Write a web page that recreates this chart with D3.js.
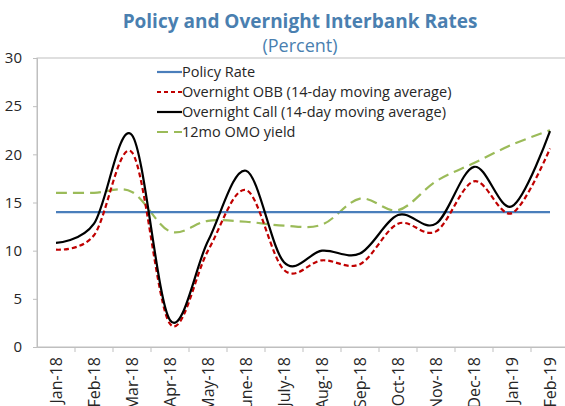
<!DOCTYPE html>
<html>
<head>
<meta charset="utf-8">
<script src="https://cdn.jsdelivr.net/npm/d3@7"></script>
<style>
  body { margin: 0; background: #fff; }
  text { font-family: "Open Sans", "Noto Sans", sans-serif; }
</style>
</head>
<body>
<div id="chart"></div>
<script>
// data
var months = ["Jan-18", "Feb-18", "Mar-18", "Apr-18", "May-18", "June-18", "July-18",
              "Aug-18", "Sep-18", "Oct-18", "Nov-18", "Dec-18", "Jan-19", "Feb-19"];
var policyRate = [14, 14, 14, 14, 14, 14, 14, 14, 14, 14, 14, 14, 14, 14];
var overnightOBB = [10.1, 11.6, 20.2, 2.4, 10.0, 16.3, 8.0, 9.0, 8.6, 12.8, 12.0, 17.2, 13.9, 20.6];
var overnightCall = [10.8, 12.8, 22.0, 2.8, 11.0, 18.3, 8.8, 10.0, 9.7, 13.7, 12.8, 18.7, 14.6, 22.4];
var omoYield = [16.0, 16.0, 16.1, 12.0, 13.1, 13.0, 12.6, 12.7, 15.4, 14.2, 17.2, 19.1, 21.0, 22.5];
var yTicks = [0, 5, 10, 15, 20, 25, 30];

var series = [
  {name: "Policy Rate", values: policyRate, color: "#4a7ebb", dash: null},
  {name: "Overnight OBB (14-day moving average)", values: overnightOBB, color: "#c00000", dash: "5,3"},
  {name: "Overnight Call (14-day moving average)", values: overnightCall, color: "#000000", dash: null},
  {name: "12mo OMO yield", values: omoYield, color: "#9bbb59", dash: "11,6"}
];

var W = 565, H = 406;
var margin = {top: 58, right: -4, bottom: 59, left: 37},
    width = W - margin.left - margin.right,
    height = H - margin.top - margin.bottom;

var svg = d3.select("#chart").append("svg")
    .attr("width", W)
    .attr("height", H);

svg.append("text")
    .attr("x", 300).attr("y", 28)
    .attr("text-anchor", "middle")
    .style("font-size", "19px").style("font-weight", "bold")
    .style("fill", "#4a7fb0")
    .text("Policy and Overnight Interbank Rates");

svg.append("text")
    .attr("x", 300).attr("y", 52)
    .attr("text-anchor", "middle")
    .style("font-size", "18px")
    .style("fill", "#4a7fb0")
    .text("(Percent)");

var g = svg.append("g")
    .attr("transform", "translate(" + margin.left + "," + margin.top + ")");

var x = d3.scaleBand().domain(months).range([0, width]);
var y = d3.scaleLinear().domain([0, 30]).range([height, 0]);

// plot area border
g.append("rect")
    .attr("width", width).attr("height", height)
    .attr("fill", "none").attr("stroke", "#bfbfbf");

var yAxis = g.append("g")
    .call(d3.axisLeft(y).tickValues(yTicks).tickSize(4).tickPadding(11));
var xAxis = g.append("g")
    .attr("transform", "translate(0," + height + ")")
    .call(d3.axisBottom(x).tickSize(0).tickFormat(function(d) { return d; }));

// excel-style ticks between categories
g.append("g").selectAll("line")
    .data(months)
  .enter().append("line")
    .attr("x1", function(d) { return x(d) + x.bandwidth(); })
    .attr("x2", function(d) { return x(d) + x.bandwidth(); })
    .attr("y1", height).attr("y2", height + 5)
    .attr("stroke", "#bfbfbf");

[yAxis, xAxis].forEach(function(a) {
  a.select(".domain").attr("stroke", "#bfbfbf");
  a.selectAll(".tick line").attr("stroke", "#bfbfbf");
  a.selectAll(".tick text").style("font-size", "15px").style("fill", "#262626")
      .style("font-family", "'Open Sans', sans-serif");
});

xAxis.selectAll(".tick text")
    .style("font-size", "16px")
    .attr("transform", "rotate(-90)")
    .attr("text-anchor", "end")
    .attr("x", -10)
    .attr("y", 0)
    .attr("dy", "0.35em");

var line = d3.line()
    .x(function(d, i) { return x(months[i]) + x.bandwidth() / 2; })
    .y(function(d) { return y(d); })
    .curve(d3.curveCardinal.tension(0));

var order = [3, 0, 1, 2];
order.forEach(function(k) {
  var s = series[k];
  g.append("path")
      .datum(s.values)
      .attr("d", line)
      .attr("fill", "none")
      .attr("stroke", s.color)
      .attr("stroke-width", 2.2)
      .attr("stroke-dasharray", s.dash);
});

// legend
var legend = svg.append("g").attr("transform", "translate(157,72)");
var rows = legend.selectAll("g")
    .data(series)
  .enter().append("g")
    .attr("transform", function(d, i) { return "translate(0," + i * 20 + ")"; });
rows.append("line")
    .attr("x1", 0).attr("x2", 25)
    .attr("stroke", function(d) { return d.color; })
    .attr("stroke-width", 2.2)
    .attr("stroke-dasharray", function(d) { return d.dash ? (d.dash === "5,3" ? "4,3" : "11,6") : null; });
rows.append("text")
    .attr("x", 25).attr("dy", "0.35em")
    .style("font-size", "14.5px").style("fill", "#262626")
    .text(function(d) { return d.name; });
</script>
</body>
</html>
